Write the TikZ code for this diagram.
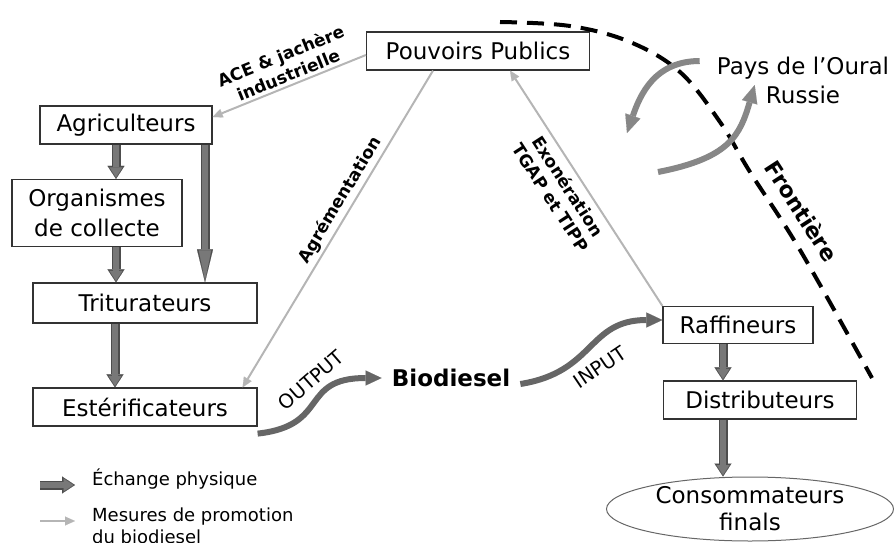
\documentclass[tikz,border=0pt]{standalone}
\usepackage{fontspec}
\setmainfont{DejaVu Sans}
\usepackage{tikz, xcolor}
\usetikzlibrary{arrows.meta, shapes.geometric}
\definecolor{physgris}{HTML}{787878}
\definecolor{physbord}{HTML}{4D4D4D}
\definecolor{mesgris}{HTML}{B5B5B5}
\definecolor{fluxgris}{HTML}{666666}
\definecolor{russgris}{HTML}{878787}
\newcommand{\grandtexte}{\fontsize{23}{28}\selectfont}
\newcommand{\moyentexte}{\fontsize{18}{22}\selectfont}

\begin{document}
\begin{tikzpicture}[x=1pt, y=-1pt,
  boite/.style={draw=black!80, line width=1.2pt, fill=white, font=\grandtexte, inner sep=0pt, minimum height=38pt},
  phys/.style={draw=physbord, line width=9pt, -{Triangle[length=13pt, width=17pt, line width=0.1pt]},
    postaction={draw=physgris, line width=6.5pt, shorten >=1.5pt, -{Triangle[length=10pt, width=13pt, line width=0.1pt]}}},
  physlong/.style={draw=physbord, line width=9pt, -{Triangle[length=33pt, width=16pt, line width=0.1pt]},
    postaction={draw=physgris, line width=6.5pt, shorten >=2pt, -{Triangle[length=30pt, width=12.5pt, line width=0.1pt]}}},
  mesure/.style={draw=mesgris, line width=2pt, -{Triangle[length=10pt, width=9pt, line width=0.1pt]}},
  flux/.style={draw=fluxgris, line width=6pt, -{Triangle[length=16pt, width=15pt, line width=0.1pt]}},
  retour/.style={draw=russgris, line width=6pt, -{Triangle[length=18pt, width=16pt, line width=0.1pt]}},
  mot/.style={font=\bfseries\fontsize{17}{20.5}\selectfont, align=center, sloped, inner sep=3pt}]
\useasboundingbox (0,0) rectangle (894,543);

\node[boite, minimum width=223pt] (pp) at (478,51) {Pouvoirs Publics};
\node[boite, minimum width=172pt] (agri) at (126,125) {Agriculteurs};
\node[boite, minimum width=170pt, minimum height=67pt, align=center, font=\fontsize{23}{30}\selectfont] (orga) at (97,213) {Organismes\\de collecte};
\node[boite, minimum width=224pt, minimum height=40pt] (trit) at (145,303) {Triturateurs};
\node[boite, minimum width=224pt] (ester) at (145,407) {Estérificateurs};
\node[boite, minimum width=150pt, minimum height=37pt] (raff) at (738,325) {Raffineurs};
\node[boite, minimum width=193pt] (dist) at (760,400) {Distributeurs};
\node[boite, ellipse, draw=black!60, line width=1pt, minimum width=287pt, minimum height=64pt, align=center, font=\fontsize{23}{27}\selectfont] (conso) at (750,509) {Consommateurs\\finals};
\node[font=\bfseries\grandtexte, inner xsep=10pt] (bio) at (451,378) {Biodiesel};
\node[font=\fontsize{23}{29}\selectfont, align=center, inner sep=0pt] (oural) at (803,80) {Pays de l’Oural\\Russie};

\draw[phys] ([xshift=-10pt]agri.south) -- ([xshift=-10pt]agri.south |- orga.north);
\draw[physlong] ([xshift=79pt]agri.south) -- ([xshift=79pt]agri.south |- trit.north);
\draw[phys] ([xshift=19pt]orga.south) -- ([xshift=19pt]orga.south |- trit.north);
\draw[phys] ([xshift=-30pt]trit.south) -- ([xshift=-30pt]trit.south |- ester.north);
\draw[phys] ([xshift=-15pt]raff.south) -- ([xshift=-15pt]raff.south |- dist.north);
\draw[phys] ([xshift=-37pt]dist.south) -- ([xshift=-37pt]dist.south |- conso.north);

\draw[mesure] ([yshift=-4pt]pp.west) -- node[mot, above, pos=0.48] {ACE \& jachère\\industrielle} ([yshift=8pt]agri.east);
\draw[mesure] ([xshift=-45pt]pp.south) -- node[mot, above, pos=0.43] {Agrémentation} ([xshift=-15pt]ester.north east);
\draw[mesure] (raff.north west) -- node[mot, below, pos=0.54, inner sep=6pt] {Exonération\\TGAP et TIPP} ([xshift=32pt]pp.south);

\draw[flux] ([yshift=-7pt]ester.south east) .. controls +(73,-8) and +(-83,0) .. (bio.west);
\draw[flux] ([yshift=-6pt]bio.east) .. controls +(75,-12) and +(-75,0) .. ([yshift=5pt]raff.west);
\node[font=\fontsize{19.5}{23}\selectfont, rotate=41] (output) at (311,380) {OUTPUT};
\node[font=\fontsize{19.5}{23}\selectfont, rotate=34] (input) at (600,367) {INPUT};

\draw[line width=4pt, dash pattern=on 17pt off 10pt] plot[smooth, tension=0.6] coordinates {(500,22) (570,26) (630,42) (680,72) (720,122) (750,172) (800,250) (872,378)};
\node[font=\bfseries\fontsize{22}{26}\selectfont, rotate=-57] (front) at (802,211) {Frontière};

\coordinate (ouest) at (627,133);
\coordinate (depart) at (658,172);
\draw[retour] ([xshift=-17pt, yshift=19pt]oural.west) .. controls +(-45,0) and +(13,-38) .. (ouest);
\draw[retour] (depart) .. controls (730,158) and (740,135) .. ([xshift=38pt, yshift=-5pt]oural.west);

\node[font=\moyentexte, inner sep=0pt, anchor=west] (leg1) at (92,479) {Échange physique};
\node[font=\moyentexte, inner sep=0pt, anchor=west, align=left] (leg2) at (92,526) {Mesures de promotion\\du biodiesel};
\draw[phys] ([xshift=-52pt, yshift=-6pt]leg1.west) -- ([xshift=-17pt, yshift=-6pt]leg1.west);
\draw[mesure] ([xshift=-52pt, yshift=5pt]leg2.west) -- ([xshift=-17pt, yshift=5pt]leg2.west);
\end{tikzpicture}
\end{document}
